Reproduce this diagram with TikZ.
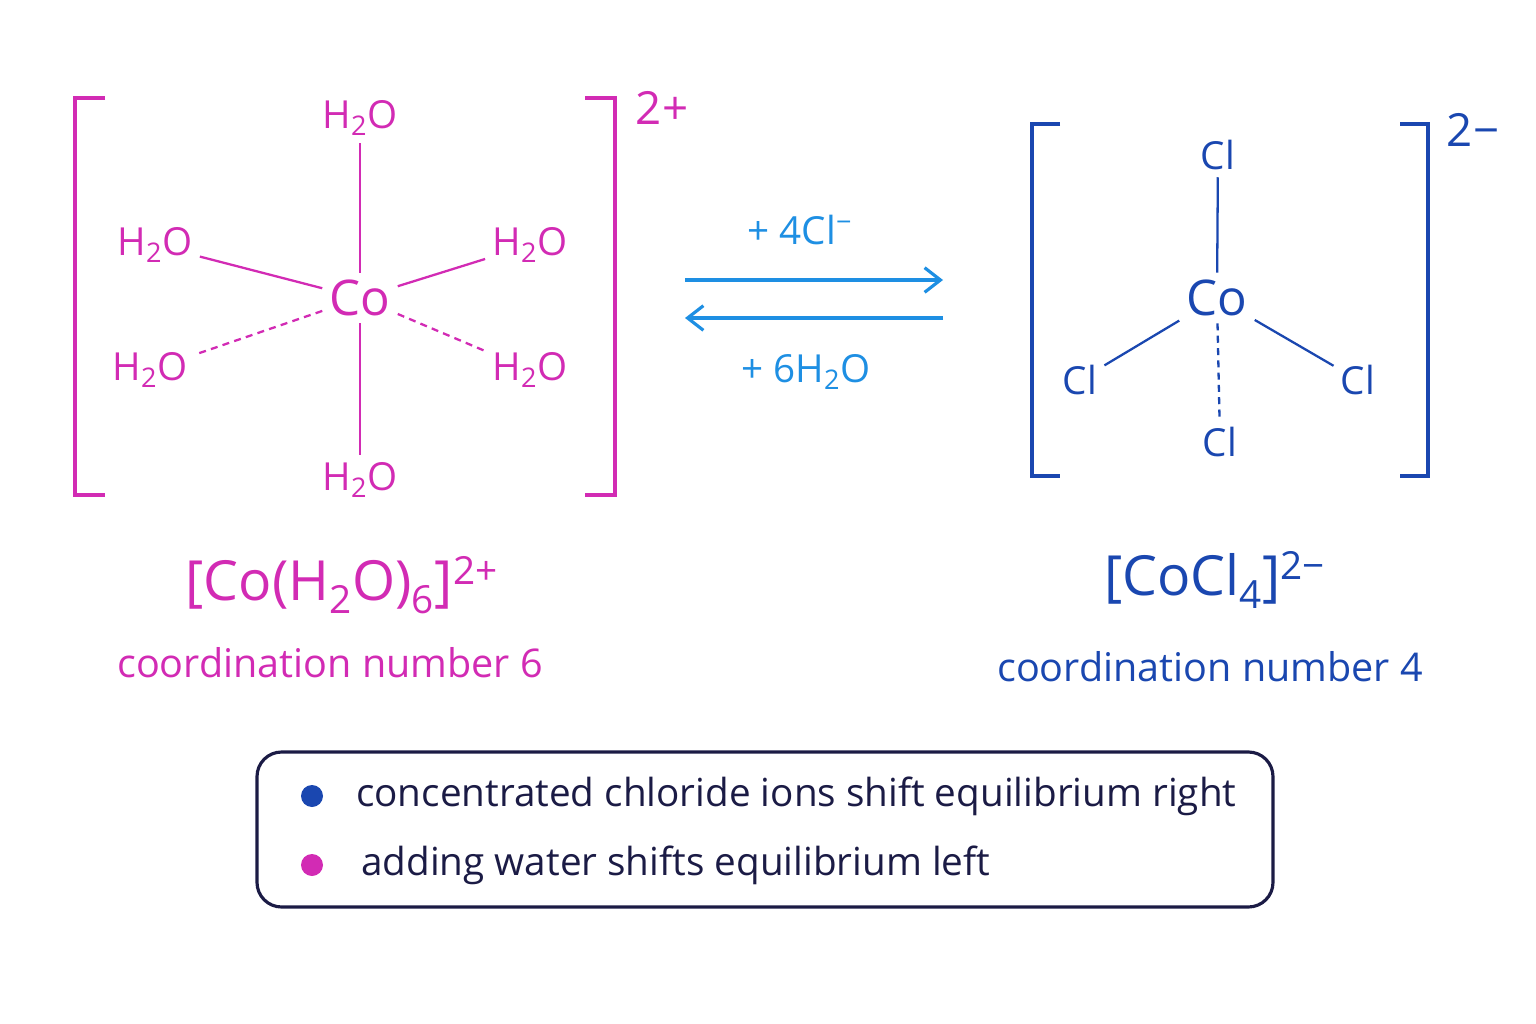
\documentclass[tikz,border=0pt]{standalone}
\usepackage{fontspec}
\setmainfont{Open Sans}
\usetikzlibrary{arrows.meta}
\definecolor{aqua}{HTML}{D22BB4}
\definecolor{chloro}{HTML}{1A47B0}
\definecolor{eqblue}{HTML}{1E8FE3}
\definecolor{navy}{HTML}{1B1B45}
\tikzset{
  lig/.style={inner sep=4pt, font=\fontsize{22}{26}\selectfont},
  bond/.style={line width=1.3pt},
  wedge/.style={line width=1.3pt, dash pattern=on 4pt off 3pt},
  brack/.style={line width=2.2pt},
  note/.style={anchor=west, font=\fontsize{22}{26}\selectfont, text=navy}
}
\begin{document}
\begin{tikzpicture}[x=0.02cm, y=-0.02cm]
	\useasboundingbox (0,0) rectangle (1536,1024);
	% hexaaqua complex
	\begin{scope}[aqua, text=aqua]
	\node [lig, font=\fontsize{28}{32}\selectfont] (co6) at (360,298) {Co};
	\node [lig] (w1) at (360,118) {H\textsubscript{2}O};
	\node [lig] (w2) at (360,480) {H\textsubscript{2}O};
	\node [lig] (w3) at (155,245) {H\textsubscript{2}O};
	\node [lig] (w4) at (530,245) {H\textsubscript{2}O};
	\node [lig] (w5) at (150,370) {H\textsubscript{2}O};
	\node [lig] (w6) at (530,370) {H\textsubscript{2}O};
	\draw [bond] (co6) -- (w1);
	\draw [bond] (co6) -- (w2);
	\draw [bond] (co6) -- (w3);
	\draw [bond] (co6) -- (w4);
	\draw [wedge] (co6) -- (w5);
	\draw [wedge] (co6) -- (w6);
	\draw [brack] (105,98) -- (75,98) -- (75,495) -- (105,495);
	\draw [brack] (585,98) -- (615,98) -- (615,495) -- (585,495);
	\node [lig, font=\fontsize{26}{30}\selectfont] (q6) at (662,108) {2+};
	\node [lig, font=\fontsize{31.5}{36}\selectfont] (f6) at (342,585) {[Co(H\textsubscript{2}O)\textsubscript{6}]\textsuperscript{2+}};
	\node [lig, font=\fontsize{22.5}{27}\selectfont] (c6) at (330,663) {coordination number 6};
	\end{scope}
	% equilibrium arrows
	\begin{scope}[eqblue, text=eqblue]
	\coordinate (a1) at (685,280);
	\coordinate (a2) at (943,280);
	\coordinate (b1) at (943,318);
	\coordinate (b2) at (685,318);
	\draw [line width=1.8pt, -{Straight Barb[length=9pt,width=14pt]}] (a1) -- (a2);
	\draw [line width=1.8pt, -{Straight Barb[length=9pt,width=14pt]}] (b1) -- (b2);
	\node [lig] (fwd) at (800,230) {+ 4Cl\textsuperscript{−}};
	\node [lig] (bwd) at (806,372) {+ 6H\textsubscript{2}O};
	\end{scope}
	% tetrachloro complex
	\begin{scope}[chloro, text=chloro]
	\node [lig, font=\fontsize{28}{32}\selectfont] (co4) at (1217,298) {Co};
	\node [lig] (l1) at (1218,155) {Cl};
	\node [lig] (l2) at (1080,380) {Cl};
	\node [lig] (l3) at (1358,380) {Cl};
	\node [lig] (l4) at (1220,442) {Cl};
	\draw [bond] (co4) -- (l1);
	\draw [bond] (co4) -- (l2);
	\draw [bond] (co4) -- (l3);
	\draw [wedge] (co4) -- (l4);
	\draw [brack] (1060,124) -- (1032,124) -- (1032,476) -- (1060,476);
	\draw [brack] (1400,124) -- (1428,124) -- (1428,476) -- (1400,476);
	\node [lig, font=\fontsize{26}{30}\selectfont] (q4) at (1473,130) {2−};
	\node [lig, font=\fontsize{31.5}{36}\selectfont] (f4) at (1215,580) {[CoCl\textsubscript{4}]\textsuperscript{2−}};
	\node [lig, font=\fontsize{22.5}{27}\selectfont] (c4) at (1210,667) {coordination number 4};
	\end{scope}
	% legend box
	\draw [navy, line width=1.8pt, rounded corners=14pt] (257,752) rectangle (1273,907);
	\fill [chloro] (312,796) circle (11);
	\fill [aqua] (312,865) circle (11);
	\node [note] (n1) at (350,796) {concentrated chloride ions shift equilibrium right};
	\node [note] (n2) at (355,865) {adding water shifts equilibrium left};
\end{tikzpicture}
\end{document}
